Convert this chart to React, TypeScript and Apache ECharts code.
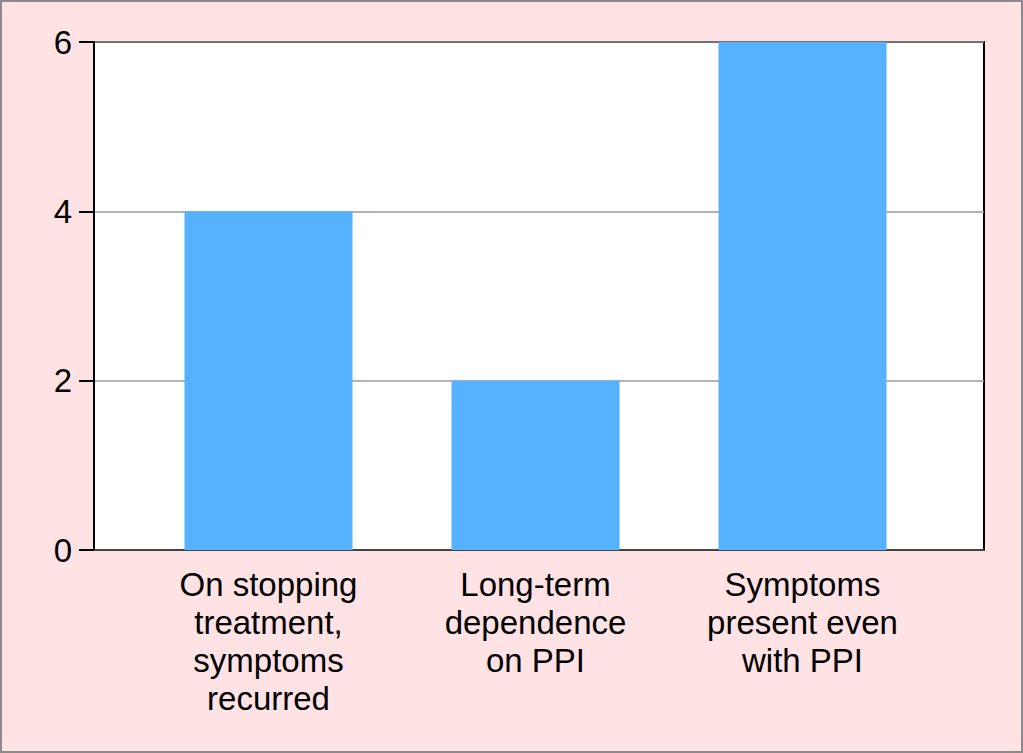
import React, { useEffect, useRef } from "react";
import * as echarts from "echarts";

const categories = [
  "On stopping\ntreatment,\nsymptoms\nrecurred",
  "Long-term\ndependence\non PPI",
  "Symptoms\npresent even\nwith PPI",
];
const values = [4, 2, 6];
const yMin = 0;
const yMax = 6;
const yInterval = 2;

export default function App() {
  const ref = useRef<HTMLDivElement>(null);
  useEffect(() => {
    if (!ref.current) return;
    const chart = echarts.init(ref.current, undefined, { renderer: "svg" });
    const font = "'Liberation Sans', Arial, sans-serif";
    chart.setOption({
      animation: false,
      backgroundColor: "#FFE2E4",
      textStyle: { fontFamily: font },
      graphic: [
        {
          type: "rect",
          shape: { x: 1, y: 1, width: 1021, height: 751 },
          style: { fill: "none", stroke: "#8a8a8a", lineWidth: 2 },
          z: 100,
        },
      ],
      grid: [
        { left: 135, right: 87, top: 42, bottom: 203 },
        {
          left: 94,
          right: 39,
          top: 42,
          bottom: 203,
          show: true,
          backgroundColor: "#ffffff",
          borderColor: "#000000",
          borderWidth: 2,
          z: 0,
        },
      ],
      xAxis: [
        {
          type: "category",
          gridIndex: 0,
          data: categories,
          axisLine: { show: false },
          axisTick: { show: false },
          axisLabel: {
            color: "#000",
            fontSize: 33,
            lineHeight: 38,
            margin: 15,
            fontFamily: font,
            interval: 0,
          },
        },
        {
          type: "value",
          gridIndex: 1,
          min: 0,
          max: 1,
          axisLine: { show: true, lineStyle: { color: "#444", width: 2 } },
          axisTick: { show: false },
          axisLabel: { show: false },
          splitLine: { show: false },
        },
      ],
      yAxis: [
        {
          type: "value",
          gridIndex: 0,
          min: yMin,
          max: yMax,
          interval: yInterval,
          show: false,
          splitLine: { show: false },
        },
        {
          type: "value",
          gridIndex: 1,
          min: yMin,
          max: yMax,
          interval: yInterval,
          axisLine: { show: true, lineStyle: { color: "#000", width: 2 } },
          axisTick: { show: true, length: 15, lineStyle: { color: "#000", width: 2 } },
          axisLabel: { color: "#000", fontSize: 33, margin: 22, fontFamily: font },
          splitLine: { show: true, lineStyle: { color: "#999", width: 1.5 } },
        },
      ],
      series: [
        {
          type: "bar",
          xAxisIndex: 0,
          yAxisIndex: 0,
          data: values,
          barWidth: 168,
          itemStyle: { color: "#56B1FF" },
          z: 5,
        },
      ],
    });
    return () => chart.dispose();
  }, []);
  return (
    <div
      ref={ref}
      style={{ position: "absolute", left: 0, top: 0, width: 1023, height: 753 }}
    />
  );
}
